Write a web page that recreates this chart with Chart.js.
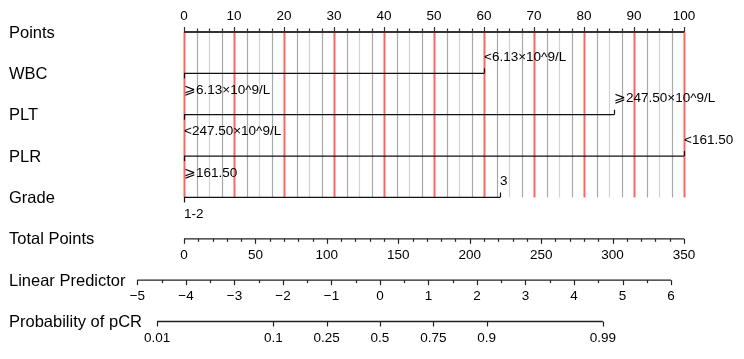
<!DOCTYPE html>
<html>
<head>
<meta charset="utf-8">
<script src="https://cdn.jsdelivr.net/npm/chart.js@4.4.1/dist/chart.umd.min.js"></script>
<style>
  body { margin: 0; background: #fff; }
</style>
</head>
<body>
<canvas id="nomo" width="744" height="359"></canvas>
<script>
// row names (left column)
const rowNames = ['Points', 'WBC', 'PLT', 'PLR', 'Grade', 'Total Points', 'Linear Predictor', 'Probability of pCR'];

// variable levels and the points they score
const wbcLevels = ['<6.13×10^9/L', '⩾6.13×10^9/L'];
const wbcPoints = [60, 0];
const pltLevels = ['⩾247.50×10^9/L', '<247.50×10^9/L'];
const pltPoints = [86, 0];
const plrLevels = ['<161.50', '⩾161.50'];
const plrPoints = [100, 0];
const gradeLevels = ['3', '1-2'];
const gradePoints = [63.2, 0];

// axis ticks
const pointsTicks = [0, 10, 20, 30, 40, 50, 60, 70, 80, 90, 100];
const totalTicks = [0, 50, 100, 150, 200, 250, 300, 350];
const lpTicks = [-5, -4, -3, -2, -1, 0, 1, 2, 3, 4, 5, 6];
const probTicks = [0.01, 0.1, 0.25, 0.5, 0.75, 0.9, 0.99];

// linear predictor = lpIntercept + lpSlope * total points
const lpIntercept = -4.04;
const lpSlope = 0.02945;
const totalMax = 350;

const variables = [
    { levels: wbcLevels, points: wbcPoints },
    { levels: pltLevels, points: pltPoints },
    { levels: plrLevels, points: plrPoints },
    { levels: gradeLevels, points: gradePoints }
];

function totalToPts(t) { return t * 100 / totalMax; }
function lpToPts(v) { return totalToPts((v - lpIntercept) / lpSlope); }
function probToPts(p) { return lpToPts(Math.log(p / (1 - p))); }

const FONT = '"Liberation Sans", Arial, sans-serif';

const datasets = variables.map((v, i) => ({
    label: rowNames[i + 1],
    data: [{ x: Math.min(...v.points), y: i + 1 }, { x: Math.max(...v.points), y: i + 1 }],
    borderColor: '#111',
    borderWidth: 1.3,
    pointRadius: 0,
    clip: false
}));

const nomogram = {
    id: 'nomogram',
    beforeDatasetsDraw(chart) {
        const ctx = chart.ctx;
        const x = chart.scales.x, y = chart.scales.y;
        const top = y.getPixelForValue(0), bottom = y.getPixelForValue(4);
        ctx.save();
        // vertical guide lines
        for (let p = 0; p <= 100; p += 2.5) {
            const px = Math.round(x.getPixelForValue(p)) + 0.5;
            if (p % 10 === 0) { ctx.strokeStyle = '#ff6464'; ctx.lineWidth = 2; }
            else if (p % 5 === 0) { ctx.strokeStyle = '#d2d2d2'; ctx.lineWidth = 1.2; }
            else { ctx.strokeStyle = '#a9a9a9'; ctx.lineWidth = 1.2; }
            ctx.beginPath(); ctx.moveTo(px, top); ctx.lineTo(px, bottom); ctx.stroke();
        }
        ctx.restore();
    },
    afterDatasetsDraw(chart) {
        const ctx = chart.ctx;
        const x = chart.scales.x, y = chart.scales.y;
        ctx.save();
        ctx.fillStyle = '#000';
        ctx.textBaseline = 'middle';

        // row names
        ctx.font = '16.5px ' + FONT;
        ctx.textAlign = 'left';
        rowNames.forEach((n, i) => ctx.fillText(n, 9, y.getPixelForValue(i) + 1));

        function hline(a, b, row, w, col) {
            const py = y.getPixelForValue(row);
            ctx.strokeStyle = col; ctx.lineWidth = w;
            ctx.beginPath(); ctx.moveTo(x.getPixelForValue(a), py); ctx.lineTo(x.getPixelForValue(b), py); ctx.stroke();
        }
        function tick(p, row, len) {
            const px = Math.round(x.getPixelForValue(p)) + 0.5, py = y.getPixelForValue(row);
            ctx.lineWidth = 1.2;
            ctx.beginPath(); ctx.moveTo(px, py); ctx.lineTo(px, py + len); ctx.stroke();
        }
        function label(txt, p, row, dy, align) {
            ctx.textAlign = align || 'center';
            ctx.fillText(txt, x.getPixelForValue(p), y.getPixelForValue(row) + dy);
        }

        ctx.font = '13.5px ' + FONT;

        // Points axis
        hline(0, 100, 0, 2, '#333');
        ctx.strokeStyle = '#333';
        for (let p = 0; p <= 100; p += 2.5) tick(p, 0, p % 10 === 0 ? -5 : -3.5);
        pointsTicks.forEach(p => label(String(p), p, 0, -16));

        // variable levels: first level above the line, second below
        variables.forEach((v, i) => {
            ctx.strokeStyle = '#111';
            v.points.forEach((p, k) => {
                tick(p, i + 1, k === 0 ? -5 : 5);
                label(v.levels[k], p, i + 1, k === 0 ? -16 : 17, 'left');
            });
        });

        // Total Points axis
        hline(0, totalToPts(totalMax), 5, 1.3, '#222');
        ctx.strokeStyle = '#222';
        for (let t = 0; t <= totalMax; t += 10) tick(totalToPts(t), 5, t % 50 === 0 ? 5 : 3);
        totalTicks.forEach(t => label(String(t), totalToPts(t), 5, 16));

        // Linear Predictor axis
        hline(lpToPts(lpTicks[0]), lpToPts(lpTicks[lpTicks.length - 1]), 6, 1.3, '#222');
        for (let v = lpTicks[0]; v <= lpTicks[lpTicks.length - 1]; v += 0.5) tick(lpToPts(v), 6, Number.isInteger(v) ? 5 : 3);
        lpTicks.forEach(v => label(String(v).replace('-', '\u2212'), lpToPts(v), 6, 16));

        // Probability axis
        hline(probToPts(probTicks[0]), probToPts(probTicks[probTicks.length - 1]), 7, 1.3, '#222');
        probTicks.forEach(p => { tick(probToPts(p), 7, 5); label(String(p), probToPts(p), 7, 17); });

        ctx.restore();
    }
};

new Chart(document.getElementById('nomo'), {
    type: 'line',
    data: { datasets: datasets },
    options: {
        responsive: false,
        animation: false,
        layout: { padding: { left: 134, right: 60, top: 32, bottom: 37.5 } },
        plugins: { legend: { display: false }, tooltip: { enabled: false } },
        scales: {
            x: { type: 'linear', min: -10, max: 100, display: false },
            y: { type: 'linear', min: 0, max: 7, reverse: true, display: false }
        }
    },
    plugins: [nomogram]
});
</script>
</body>
</html>
